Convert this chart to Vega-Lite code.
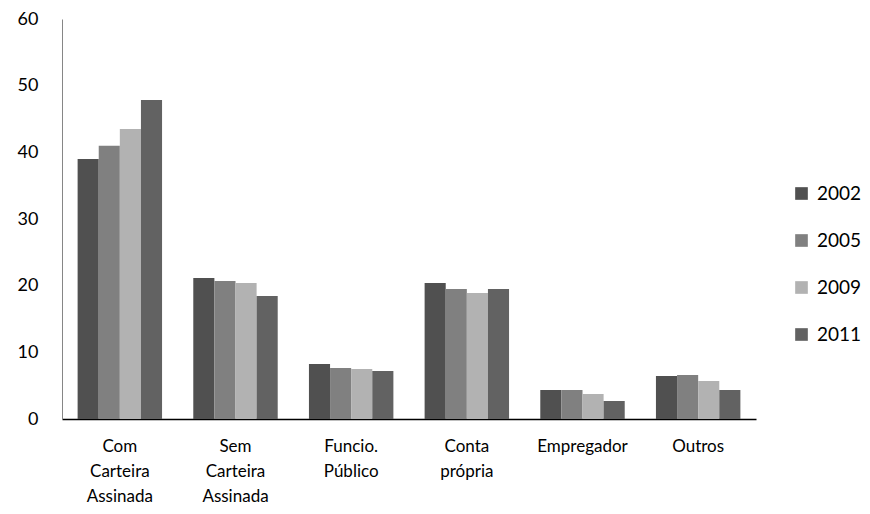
{
  "$schema": "https://vega.github.io/schema/vega-lite/v6.json",
  "width": 694,
  "height": 400,
  "autosize": {"type": "none"},
  "padding": {"left": 62, "top": 19, "right": 114, "bottom": 95},
  "background": "white",
  "config": {"view": {"stroke": null}, "font": "Lato"},
  "data": {
    "values": [
      {"categoria": "Com Carteira Assinada", "ano": "2002", "valor": 39.0},
      {"categoria": "Com Carteira Assinada", "ano": "2005", "valor": 41.0},
      {"categoria": "Com Carteira Assinada", "ano": "2009", "valor": 43.5},
      {"categoria": "Com Carteira Assinada", "ano": "2011", "valor": 47.85},
      {"categoria": "Sem Carteira Assinada", "ano": "2002", "valor": 21.15},
      {"categoria": "Sem Carteira Assinada", "ano": "2005", "valor": 20.7},
      {"categoria": "Sem Carteira Assinada", "ano": "2009", "valor": 20.4},
      {"categoria": "Sem Carteira Assinada", "ano": "2011", "valor": 18.45},
      {"categoria": "Funcio. Público", "ano": "2002", "valor": 8.25},
      {"categoria": "Funcio. Público", "ano": "2005", "valor": 7.65},
      {"categoria": "Funcio. Público", "ano": "2009", "valor": 7.5},
      {"categoria": "Funcio. Público", "ano": "2011", "valor": 7.2},
      {"categoria": "Conta própria", "ano": "2002", "valor": 20.4},
      {"categoria": "Conta própria", "ano": "2005", "valor": 19.5},
      {"categoria": "Conta própria", "ano": "2009", "valor": 18.9},
      {"categoria": "Conta própria", "ano": "2011", "valor": 19.5},
      {"categoria": "Empregador", "ano": "2002", "valor": 4.35},
      {"categoria": "Empregador", "ano": "2005", "valor": 4.35},
      {"categoria": "Empregador", "ano": "2009", "valor": 3.75},
      {"categoria": "Empregador", "ano": "2011", "valor": 2.7},
      {"categoria": "Outros", "ano": "2002", "valor": 6.45},
      {"categoria": "Outros", "ano": "2005", "valor": 6.6},
      {"categoria": "Outros", "ano": "2009", "valor": 5.7},
      {"categoria": "Outros", "ano": "2011", "valor": 4.35}
    ]
  },
  "mark": {"type": "bar"},
  "encoding": {
    "x": {
      "field": "categoria",
      "type": "nominal",
      "sort": null,
      "scale": {"paddingInner": 0.27, "paddingOuter": 0.135},
      "axis": {
        "title": null,
        "labelAngle": 0,
        "ticks": false,
        "domainColor": "#000000",
        "domainWidth": 1.5,
        "labelPadding": 19,
        "labelFontSize": 17,
        "labelColor": "#000000",
        "labelLineHeight": 25,
        "labelBaseline": "top",
        "labelExpr": "split(datum.label, ' ')"
      }
    },
    "xOffset": {"field": "ano", "type": "nominal", "scale": {"paddingInner": 0, "paddingOuter": 0}},
    "y": {
      "field": "valor",
      "type": "quantitative",
      "scale": {"domain": [0, 60], "nice": false},
      "axis": {
        "title": null,
        "values": [0, 10, 20, 30, 40, 50, 60],
        "grid": false,
        "ticks": false,
        "domainColor": "#868686",
        "labelPadding": 24,
        "labelFontSize": 18,
        "labelColor": "#000000"
      }
    },
    "color": {
      "field": "ano",
      "type": "nominal",
      "scale": {"domain": ["2002", "2005", "2009", "2011"], "range": ["#505050", "#808080", "#b2b2b2", "#626262"]},
      "legend": {
        "title": null,
        "orient": "none",
        "legendX": 730,
        "legendY": 165,
        "symbolType": "square",
        "symbolSize": 160,
        "symbolStrokeWidth": 0,
        "labelFontSize": 19,
        "labelColor": "#000000",
        "rowPadding": 27,
        "labelOffset": 6
      }
    }
  }
}
